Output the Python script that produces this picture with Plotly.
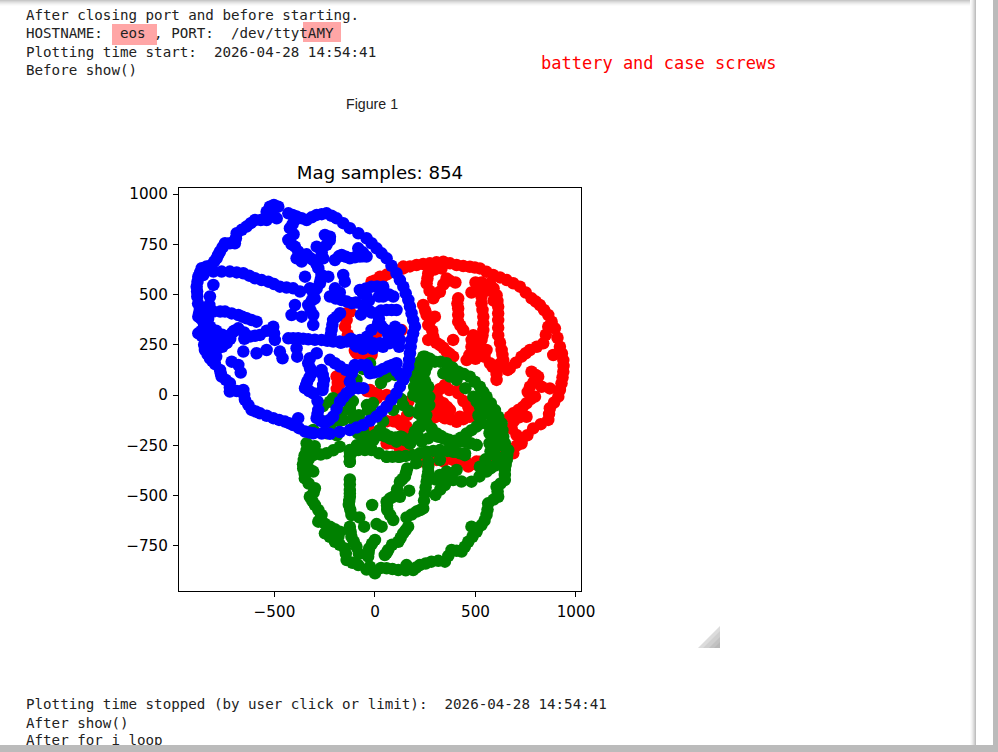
import plotly.graph_objects as go

W, H = 998, 752

red_x = [141,207,273,340,406,472,522,588,655,721,779,820,862,895,920,937,937,928,912,870,862,787,729,680,
 331,265,257,290,356,323,414,414,414,439,389,323,356,389,240,257,298,265,290,265,
 530,530,539,539,530,481,489,456,514,555,572,572,605,613,613,613,630,638,605,605,671,729,771,837,862,887,779,812,771,754,829,870,796,713,671,754,680,704,489,
 348,414,307,340,373,307,464,472,406,348,273,116,174,166,58,124,224,406,505,464,307,688,
 -141,-149,-125,-17,33,-25,58,-183,-91,-17,-83,-17,8,132,-191,-174,-25,107,157,25,141,
 107,157,58,240,389,455,522,688,729,671,339,422,489]
red_y = [630,647,655,663,647,638,630,597,572,539,481,448,398,332,240,174,116,58,-8,-66,-124,-166,-232,-273,
 630,605,555,481,580,514,481,431,365,323,274,249,216,191,448,398,390,348,290,274,
 522,456,390,323,274,274,224,174,224,224,158,555,497,439,373,298,224,174,133,75,133,191,224,257,340,199,116,91,41,-41,41,33,-8,-75,-108,-108,-166,-199,298,
 50,8,-8,-41,-75,-75,-58,-108,-133,-116,25,-133,-182,-33,-224,-265,-331,-331,-331,-356,-323,-290,
 373,340,414,564,580,17,0,91,207,199,-116,-182,307,323,92,59,25,-124,-157,589,639,
 -133,-166,-241,-315,-323,-340,-332,-91,-241,-282,-108,-108,-75]
red_more = [(110,620),(174,640),(240,652),(306,660),(373,655),(439,642),(497,634),(555,613),(622,585),(688,556),(750,510),(800,465),(841,423),(879,365),(908,285),(930,207),(938,145),(933,87),(920,25),(891,-37),(866,-95),(825,-145),(758,-200),(705,-252),(650,-290),
 (298,625),(261,580),(272,518),(530,560),(530,490),(535,423),(539,356),(535,298),(500,250),(520,250),(572,520),(590,530),(590,470),(609,468),(613,406),(613,335),(622,260),(634,200),(621,155),(605,104),(480,240),(500,180),(470,200),(520,195),(545,190),(585,140),(635,150),(660,125),(700,160),(750,208),(805,240),(850,300),(800,100),(790,65),(760,15),(775,-20),(735,-60),(700,-90),(690,-130),(720,-110),(500,560),(480,510),(400,560),(370,570),(340,550),(300,500),(410,455),(414,400),(425,345),(305,260),(340,235),(372,205),(250,420),(275,370),(285,320),
 (323,30),(370,25),(420,30),(290,-40),(320,-30),(360,-60),(440,-30),(470,-80),(440,-120),(375,-120),(330,-100),(300,-110),(270,-150),(160,-100),(145,-150),(200,-200),(90,-240),(170,-290),(270,-330),(340,-330),(455,-335),(500,-345),(560,-335),(600,-320),(640,-310),
 (-145,405),(-135,300),(-100,220),(-60,205),(-185,60),(-190,30),(-170,100),(-10,-200),(-50,-140),(60,-130),(90,-130),(130,-150),(0,570),(60,600),(90,615),(20,560),(-40,20),(10,10),(10,-15)]
red_x += [p[0] for p in red_more]
red_y += [p[1] for p in red_more]

green_x = [-340,-354,-357,-349,-307,-299,-324,-299,-266,-282,-224,-249,-175,-199,-150,-141,-83,0,-25,58,116,190,157,223,281,348,381,431,464,505,480,530,555,563,613,605,646,646,654,663,
 -307,-241,-175,-125,-125,-83,-17,58,116,190,257,323,398,447,-125,-125,-125,-130,-117,-78,-54,8,33,-14,91,61,58,91,124,170,124,149,160,-125,-117,-92,0,-29,-34,66,49,116,140,165,157,207,240,248,257,265,265,301,348,323,389,480,555,406,356,522,
 24,74,132,107,174,199,232,290,339,398,447,505,-50,-125,-34,-224,
 249,298,356,414,472,522,555,597,630,638,655,655,588,605,605,555,564,
 215,199,191,240,215,257,307,348,257,240,265,340,406,489,522,505,456,398,199,174,124,74,25,-8,-58,-125,-125,58,124,323,389,448,505,
 240,207,215,224,215,-208,-125,-158,-25,25,91,58,-25,-92,-224,-307,74]
green_y = [-274,-323,-365,-415,-381,-464,-506,-547,-597,-630,-655,-688,-680,-730,-763,-821,-846,-887,-854,-862,-871,-871,-846,-846,-829,-829,-771,-779,-730,-680,-655,-647,-597,-539,-506,-456,-423,-373,-323,-274,
 -299,-290,-257,-332,-282,-274,-274,-307,-307,-299,-282,-274,-282,-299,-420,-473,-506,-547,-597,-609,-655,-642,-655,-547,-622,-572,-531,-506,-506,-476,-431,-406,-365,-655,-705,-755,-721,-763,-804,-771,-796,-730,-688,-655,-609,-580,-564,-489,-431,-381,-332,-497,-448,-398,-423,-431,-381,-373,-381,-357,
 -199,-216,-207,-232,-241,-182,-232,-199,-216,-227,-232,-249,-199,-75,-75,-33,
 191,166,158,116,91,41,-8,-75,-141,-207,-273,-323,-207,-257,-307,-91,-149,
 141,83,0,-25,-91,-141,-191,-216,141,91,41,108,75,-8,-58,-157,-191,-232,-182,-240,-207,-216,-174,-224,-224,-274,-332,-307,-307,-323,-282,-290,-249,
 191,75,9,-74,-157,-16,-57,-124,-74,-174,-74,92,158,75,-157,-174,-207]
green_more = [(-350,-300),(-358,-345),(-350,-392),(-330,-440),(-305,-485),(-312,-527),(-282,-572),(-272,-615),(-250,-640),(-200,-668),(-225,-705),(-182,-705),(-175,-745),(-145,-790),(-112,-835),(-42,-868),(30,-860),(87,-866),(153,-872),(205,-858),(252,-838),(315,-825),(365,-800),(406,-775),(447,-755),(485,-705),(510,-665),(545,-625),(560,-570),(590,-520),(610,-480),(625,-440),(646,-398),(650,-348),(658,-298),(-300,-255),(-320,-290),(-340,-240),(-340,-340),(-330,-320),(-325,-370),
 (-270,-296),(-208,-275),(-125,-305),(-105,-278),(-50,-274),(20,-290),(87,-307),(153,-303),(223,-290),(290,-278),(360,-278),(423,-290),(-125,-445),(-125,-490),(-128,-527),(-123,-570),(75,-597),(60,-550),(75,-515),(110,-470),(137,-418),(155,-385),(205,-340),(-121,-680),(-105,-730),(-80,-790),(-15,-740),(-32,-785),(58,-785),(85,-745),(128,-710),(153,-672),(182,-595),(225,-572),(244,-525),(252,-460),(261,-405),(265,-355),(325,-470),(335,-420),(355,-410),(300,-420),(430,-430),(520,-405),(575,-365),(600,-350),(550,-320),(600,-300),(625,-340),
 (50,-205),(103,-212),(120,-220),(150,-225),(215,-207),(265,-215),(315,-208),(368,-222),(422,-230),(476,-240),(0,-205),(-85,-190),(-110,-120),(-80,-100),(-40,-50),(-10,-40),(-120,-30),(-170,-85),(-190,-30),(-258,-55),(-260,-130),(-240,-190),(-190,-200),
 (224,165),(273,180),(327,165),(385,137),(443,104),(497,66),(538,16),(576,-41),(613,-108),(634,-175),(646,-240),(655,-298),(590,-125),(610,-170),(620,-235),(570,-190),(570,-240),(575,-280),(540,-60),(520,-110),(530,-140),
 (207,110),(195,40),(215,-12),(228,-58),(236,-115),(282,-166),(328,-204),(248,116),(250,66),(232,20),(245,-60),(255,-100),(270,-50),(270,-10),(373,92),(450,34),(506,-33),(515,-100),(480,-175),(427,-212),(370,-235),(225,-160),(187,-210),(150,-220),(100,-212),(50,-195),(0,-199),(-30,-224),(-90,-250),(-20,-265),
 (-60,-170),(-180,-130),(-110,-30),(40,-130),(130,-20),(140,-50),(170,-80),(205,40),(150,100),(100,100),(-60,130),(-120,110),(30,60)]
green_x += [p[0] for p in green_more]
green_y += [p[1] for p in green_more]

blue_x = [-523,-481,-503,-539,-489,-539,-514,-597,-639,-688,-697,-746,-771,-788,-813,-862,-829,-879,-854,-887,-884,-804,-821,-824,-871,-879,-854,-846,-879,-846,-821,-846,-821,-780,-771,-763,-722,-722,-655,-647,-614,-572,-506,-448,-382,-407,-348,-307,-224,-125,-58,8,58,107,141,166,174,182,199,182,166,141,107,58,8,-42,-125,-191,-241,-290,-340,-390,-431,
 -804,-722,-655,-597,-531,-473,-407,-373,-348,
 -804,-746,-680,-639,-589,
 -804,-738,-680,-622,-572,-506,-498,-655,-589,-539,-473,-460,-713,-680,-668,-788,-738,
 -431,-382,-332,-266,-208,-141,-75,-8,58,124,-92,-25,-390,-387,
 -290,-332,-315,-337,-348,-307,-266,-254,-261,-282,-290,-249,-208,-174,-141,-108,-58,
 -224,-174,-116,-100,-42,-25,16,66,107,-125,
 -398,-415,-365,-307,-307,-332,-307,-324,-274,-266,-232,-307,-257,-282,-365,-382,-390,-431,-398,-423,-398,-290,-241,-224,-249,-199,-166,-125,-75,-42,-83,-199,-158,-150,-224,-166,-116,-75,-17,41,41,-42,-50,8,58,107,91,-174,-208,-216,-224,16,41,-17,66,124,74]
blue_y = [937,937,946,912,879,871,904,871,838,805,755,755,714,680,647,631,631,589,597,539,490,548,490,448,423,390,365,332,307,282,258,224,183,241,125,92,59,17,25,-24,-74,-91,-115,-132,-115,-149,-182,-190,-193,-174,-149,-107,-57,9,75,141,208,274,340,407,473,539,606,680,730,780,830,879,904,896,871,888,904,
 614,614,606,581,564,539,531,515,589,
 415,415,398,382,365,
 307,291,332,291,299,340,274,216,208,224,216,183,166,150,112,224,258,
 282,282,277,274,266,266,274,258,258,274,241,241,233,191,
 208,158,108,67,34,9,125,75,25,-74,-115,-140,-107,-33,9,34,34,
 175,142,108,150,150,108,117,142,158,67,
 448,398,390,398,349,448,506,531,556,597,589,672,680,631,664,714,680,772,738,830,871,738,747,788,796,672,697,680,689,689,730,531,597,564,490,473,457,523,539,539,490,490,432,407,423,423,490,407,374,324,274,357,332,324,299,324,258]
blue_more = [(-568,871),(-618,855),(-663,822),(-692,780),(-722,755),(-758,735),(-780,697),(-800,664),(-838,640),(-870,610),(-883,564),(-885,515),(-880,455),(-875,406),(-866,380),(-850,348),(-862,320),(-862,295),(-834,270),(-833,241),(-833,203),(-796,154),(-767,108),(-742,75),(-722,38),(-688,20),(-651,0),(-630,-49),(-593,-82),(-539,-103),(-477,-124),(-428,-140),(-378,-165),(-328,-186),(-265,-192),(-175,-184),(-92,-162),(-25,-128),(33,-82),(82,-24),(124,42),(153,108),(170,175),(178,241),(190,307),(190,373),(174,440),(153,506),(124,572),(82,643),(33,705),(-17,755),(-83,805),(-158,855),(-216,892),(-265,900),(-315,884),(-365,880),(-410,896),
 (-763,614),(-688,610),(-626,594),(-564,572),(-502,552),(-440,535),(-770,415),(-713,406),(-660,390),(-614,373),
 (-771,299),(-709,311),(-651,311),(-597,295),(-539,320),(-502,307),(-407,282),(-357,280),(-299,275),(-237,270),(-175,266),(-108,270),(-41,266),(25,258),(91,266),
 (-324,183),(-323,133),(-326,88),(-342,50),(-328,20),(-260,100),(-258,50),(-286,-30),(-286,-95),(-270,-128),(-228,-125),(-191,-70),(-158,-12),(-124,22),(-83,34),
 (-199,158),(-145,125),(-108,130),(-70,150),(-33,130),(-5,112),(41,130),(86,150),(107,120),(124,100),
 (-320,420),(-315,470),(-300,480),(-290,530),(-270,575),(-290,650),(-320,680),(-340,700),(-405,800),(-415,750),(-410,850),(-265,710),(-225,770),(-180,690),(-145,688),(-100,685),(-60,690),(-60,710),(-175,510),(-195,480),(-140,465),(-95,460),(-60,505),(-45,530),(10,540),(20,490),(70,500),(30,420),(83,423),(-190,390),(-212,350),(-220,300),(-18,410),(-30,420),(20,380),(30,345),(95,300),(100,340),(60,320),(-120,280),(-40,290),(-170,260),(-60,230),(-10,230),(40,240),(120,240),(-100,250),(-70,400),(-30,470),(-60,445),
 (-820,290),(-800,270),(-770,280),(-760,240),(-800,210),(-850,400),(-830,380),(-820,340),(-790,320),(-840,310),(-760,300),(-720,280),(-700,320),(-650,280),(-850,250),(-810,170),(-790,190)]
blue_x += [p[0] for p in blue_more]
blue_y += [p[1] for p in blue_more]

top_lines = ["After closing port and before starting.",
             "HOSTNAME:  eos , PORT:  /dev/ttytAMY",
             "Plotting time start:  2026-04-28 14:54:41",
             "Before show()"]
bottom_lines = ["Plotting time stopped (by user click or limit):  2026-04-28 14:54:41",
                "After show()"]
clipped_line = "After for i loop"
side_note = "battery and case screws"
figure_label = "Figure 1"
plot_title = "Mag samples: 854"
tick_vals_x = [-500, 0, 500, 1000]
tick_vals_y = [-750, -500, -250, 0, 250, 500, 750, 1000]

fig = go.Figure()
for xs, ys, col in [(red_x, red_y, "red"), (green_x, green_y, "green"), (blue_x, blue_y, "blue")]:
    fig.add_trace(go.Scatter(x=xs, y=ys, mode="markers", showlegend=False, cliponaxis=True,
                             marker=dict(color=col, size=12.5, line=dict(width=0))))

MONO = "DejaVu Sans Mono"
fig.add_trace(go.Scatter(x=[26], y=[741], mode="text", text=[clipped_line], textposition="middle right",
                         xaxis="x2", yaxis="y2", showlegend=False, cliponaxis=True,
                         textfont=dict(family=MONO, size=14.2, color="#222")))

def rect(x0, y0, x1, y1, col, layer="below"):
    return dict(type="rect", xref="paper", yref="paper", x0=x0/W, x1=x1/W, y0=1-y0/H, y1=1-y1/H,
                fillcolor=col, line=dict(width=0), layer=layer)

shapes = []
top_shades = ["#c8c8c8", "#d6d6d6", "#e2e2e2", "#ececec", "#f5f5f5", "#fbfbfb"]
for i, c in enumerate(top_shades):
    shapes.append(rect(0, i, 976, i+1, c))
side_shades = ["#fbfbfb", "#f4f4f4", "#eaeaea", "#dddddd", "#cfcfcf", "#bfbfbf"]
for i, c in enumerate(side_shades):
    shapes.append(rect(970+i, 0, 971+i, 745, c))
shapes.append(rect(993, 0, 998, 752, "#bbbbbb"))
shapes.append(rect(0, 745, 998, 752, "#bbbbbb"))
shapes.append(rect(112, 24, 157, 45, "#ffa6a6"))
shapes.append(rect(303, 22, 341, 42, "#ffa6a6"))
for (x0, y0, c) in [(698, 648, "#dcdcdc"), (703, 648, "#cfcfcf"), (709, 648, "#c2c2c2"), (714, 648, "#b8b8b8")]:
    shapes.append(dict(type="path", xref="paper", yref="paper",
                       path=f"M {x0/W} {1-y0/H} L {720/W} {1-y0/H} L {720/W} {1-(626+x0-698)/H} Z",
                       fillcolor=c, line=dict(width=0), layer="below"))

ann = []
def text(x, y, s, family=MONO, size=14.2, color="#222", anchor="left"):
    ann.append(dict(text=s, x=x/W, y=1-y/H, xref="paper", yref="paper", showarrow=False,
                    xanchor=anchor, yanchor="middle", align="left",
                    font=dict(family=family, size=size, color=color), borderpad=0))
for y, s in zip([15, 33, 52, 70], top_lines):
    text(25, y, s.replace(" ", "\u00a0"))
for y, s in zip([704, 723], bottom_lines):
    text(25, y, s.replace(" ", "\u00a0"))
text(540, 63, side_note.replace(" ", "\u00a0"), size=17, color="red")
text(372, 104, figure_label, family="Liberation Sans", size=14.2, color="#222", anchor="center")

axis_common = dict(showgrid=False, zeroline=False, showline=True, linecolor="black", linewidth=1, mirror=True,
                   ticks="outside", ticklen=5, tickwidth=1, tickcolor="black", automargin=False, ticklabelstandoff=2,
                   tickfont=dict(family="DejaVu Sans", size=15.2, color="black"), layer="above traces")
fig.update_layout(
    width=W, height=H, autosize=False, margin=dict(l=0, r=0, t=0, b=0, pad=0),
    paper_bgcolor="white", plot_bgcolor="rgba(0,0,0,0)", shapes=shapes, annotations=ann,
    title=dict(text=plot_title, x=380/W, xanchor="center", xref="paper", y=1-173/H, yref="paper", yanchor="middle",
               font=dict(family="DejaVu Sans", size=18.2, color="black"), automargin=False),
    xaxis=dict(domain=[179/W, 581/W], range=[-975, 1025], tickvals=tick_vals_x, **axis_common),
    yaxis=dict(domain=[1-591/H, 1-188/H], range=[-975, 1030], tickvals=tick_vals_y, **axis_common),
    xaxis2=dict(domain=[0, 1], range=[0, W], visible=False, anchor="y2", automargin=False),
    yaxis2=dict(domain=[7/H, 1], range=[745, 0], visible=False, anchor="x2", automargin=False),
)
fig.write_html("out.html", config=dict(displayModeBar=False),
               post_script="document.body.style.margin='0';document.body.style.overflow='hidden';")
